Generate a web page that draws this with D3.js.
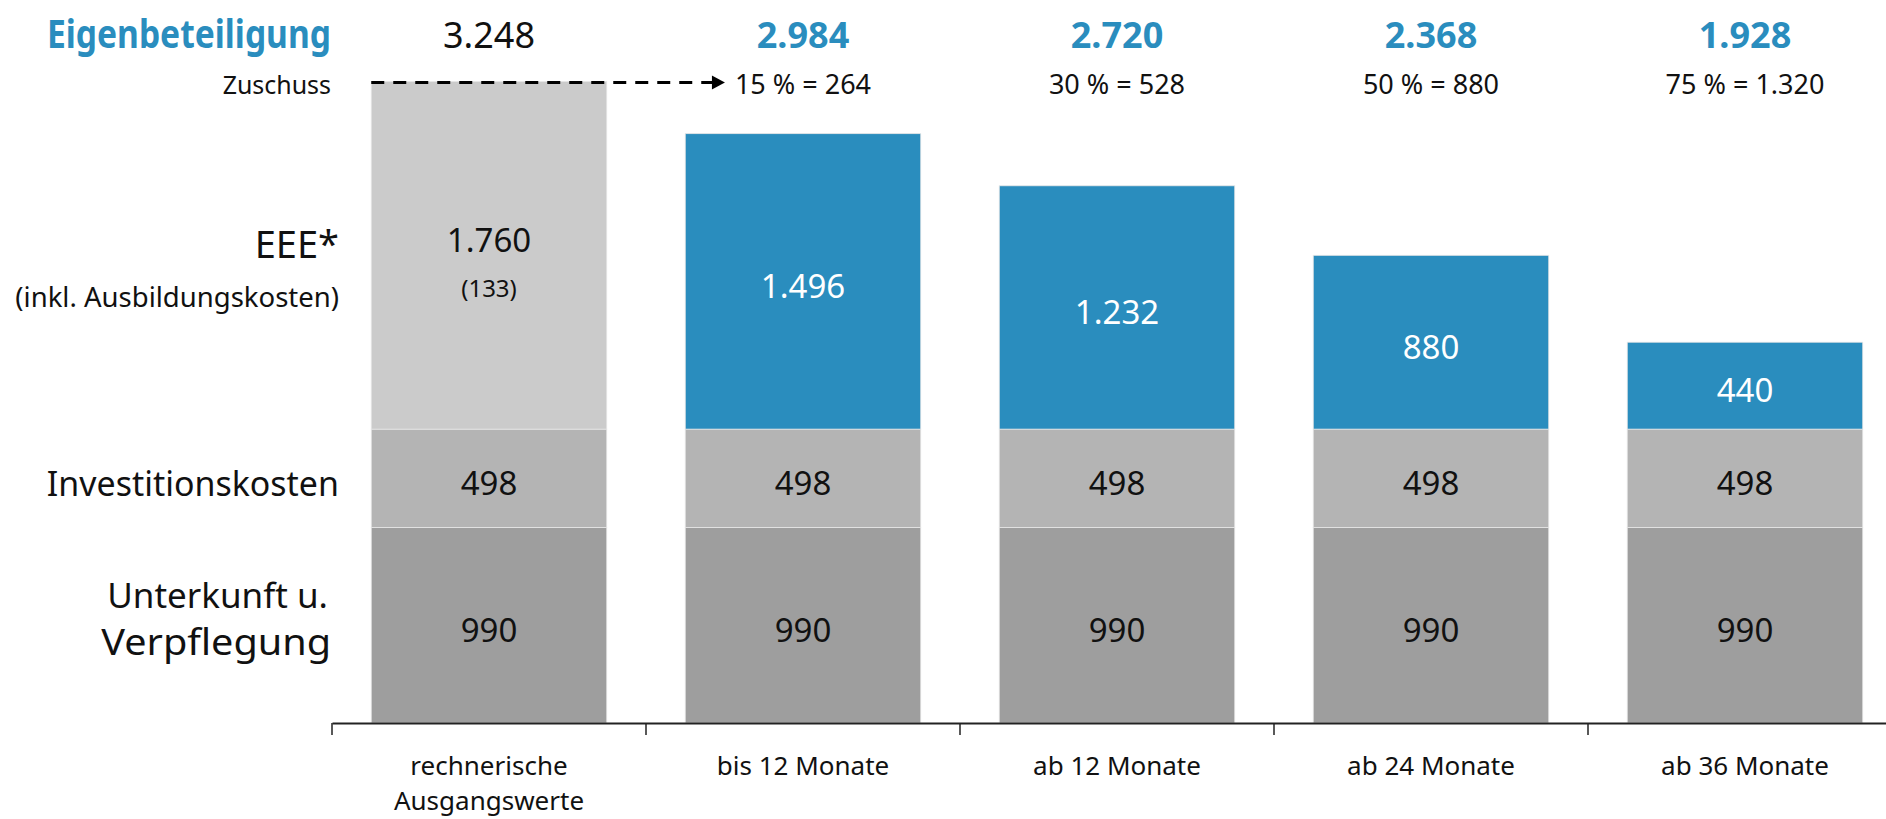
<!DOCTYPE html>
<html>
<head>
<meta charset="utf-8">
<script src="https://cdn.jsdelivr.net/npm/d3@7"></script>
<style>
  html, body { margin: 0; padding: 0; background: #fff; }
  svg { display: block; }
  text { font-family: "Noto Sans", "Open Sans", sans-serif; }
</style>
</head>
<body>
<svg id="chart" width="1886" height="819"></svg>
<script>
// ---- data ----
const categories = ["rechnerische Ausgangswerte", "bis 12 Monate", "ab 12 Monate", "ab 24 Monate", "ab 36 Monate"];
const categoryLines = [["rechnerische", "Ausgangswerte"], ["bis 12 Monate"], ["ab 12 Monate"], ["ab 24 Monate"], ["ab 36 Monate"]];
const unterkunft = [990, 990, 990, 990, 990];
const investition = [498, 498, 498, 498, 498];
const eee = [1760, 1496, 1232, 880, 440];
const eeeNote = ["(133)", null, null, null, null];
const eigenbeteiligung = [3248, 2984, 2720, 2368, 1928];
const zuschussPct = [null, 15, 30, 50, 75];
const zuschussValue = [null, 264, 528, 880, 1320];
const seriesNames = ["Unterkunft u. Verpflegung", "Investitionskosten", "EEE*"];

// ---- setup ----
const de = d3.formatLocale({decimal: ",", thousands: ".", grouping: [3], currency: ["", " €"]});
const fmt = de.format(",d");

const svg = d3.select("#chart");
const baseY = 723;

const x = d3.scaleBand().domain(categories).range([332, 1902]).paddingInner(0.25).paddingOuter(0.125);
const y = d3.scaleLinear().domain([0, 3300]).range([baseY, baseY - 3300 * 0.1975]);

const BLUE = "#2a8dbe";
const segColors = ["#9e9e9e", "#b4b4b4", "#cbcbcb"];

const rows = categories.map((c, i) => ({cat: c, i, u: unterkunft[i], inv: investition[i], eee: eee[i]}));
const stack = d3.stack().keys(["u", "inv", "eee"]);
const layers = stack(rows);

const g = svg.append("g");
layers.forEach((layer, li) => {
  g.selectAll(null).data(layer).enter().append("rect")
    .attr("x", d => x(d.data.cat))
    .attr("width", x.bandwidth())
    .attr("y", d => y(d[1]))
    .attr("height", d => y(d[0]) - y(d[1]))
    .attr("fill", d => (li === 2 && d.data.i > 0) ? BLUE : segColors[li])
    .attr("stroke", "#e6e6e6").attr("stroke-width", 0.8);
});

// segment labels
layers.forEach((layer, li) => {
  g.selectAll(null).data(layer).enter().append("text")
    .attr("x", d => x(d.data.cat) + x.bandwidth() / 2)
    .attr("y", d => {
      const mid = (y(d[0]) + y(d[1])) / 2 + 4;
      return (li === 2 && d.data.i === 0) ? mid - 20 : mid;
    })
    .attr("text-anchor", "middle")
    .attr("dominant-baseline", "central")
    .attr("font-size", 33)
    .attr("fill", d => (li === 2 && d.data.i > 0) ? "#fff" : "#111")
    .text(d => fmt(d[1] - d[0]));
});
g.selectAll(null).data(rows.filter(r => eeeNote[r.i])).enter().append("text")
  .attr("x", d => x(d.cat) + x.bandwidth() / 2)
  .attr("y", d => (y(d.u + d.inv) + y(d.u + d.inv + d.eee)) / 2 + 32)
  .attr("text-anchor", "middle").attr("dominant-baseline", "central")
  .attr("font-size", 24).attr("fill", "#111")
  .text(d => eeeNote[d.i]);

// top totals
g.selectAll(null).data(rows).enter().append("text")
  .attr("x", d => x(d.cat) + x.bandwidth() / 2)
  .attr("y", 48)
  .attr("text-anchor", "middle")
  .attr("font-size", 36)
  .attr("font-weight", d => d.i > 0 ? 700 : 400)
  .attr("fill", d => d.i > 0 ? BLUE : "#111")
  .text(d => fmt(eigenbeteiligung[d.i]));

// zuschuss labels
const zl = g.selectAll(null).data(rows.filter(r => zuschussPct[r.i] != null)).enter().append("text")
  .attr("x", d => x(d.cat) + x.bandwidth() / 2)
  .attr("y", 94)
  .attr("text-anchor", "middle")
  .attr("font-size", 27).attr("fill", "#111")
  .text(d => zuschussPct[d.i] + " % = " + fmt(zuschussValue[d.i]));

// dashed arrow
const firstBox = zl.node().getBBox();
const arrowY = y(eigenbeteiligung[0]) + 1;
const x0 = x(categories[0]);
const x1 = firstBox.x - 12;
g.append("line").attr("x1", x0).attr("x2", x1 - 8).attr("y1", arrowY).attr("y2", arrowY)
  .attr("stroke", "#000").attr("stroke-width", 3.2).attr("stroke-dasharray", "13,9");
g.append("path")
  .attr("d", `M${x1 - 11},${arrowY - 7}L${x1 + 2},${arrowY}L${x1 - 11},${arrowY + 7}Z`)
  .attr("fill", "#000");

// left labels
const leftX = 339;
const lab = (txt, yy, size, opts = {}) => {
  const sx = opts.sx || 1;
  const xx = opts.x || leftX;
  return g.append("text")
    .attr("transform", `translate(${xx},${yy}) scale(${sx},1)`)
    .attr("text-anchor", "end")
    .attr("font-size", size).attr("font-weight", opts.bold ? 700 : 400)
    .attr("fill", opts.fill || "#111").text(txt);
};
lab("Eigenbeteiligung", 48, 40, {bold: true, fill: BLUE, x: 331, sx: 0.84});
lab("Zuschuss", 94, 26, {x: 331, sx: 0.96});
lab("EEE*", 258, 38);
lab("(inkl. Ausbildungskosten)", 307, 27.5);
lab("Investitionskosten", 496, 35, {sx: 0.97});
lab("Unterkunft u.", 608, 35, {x: 328});
lab("Verpflegung", 655, 36, {x: 331, sx: 1.1});

// x axis
const axis = d3.axisBottom(x).tickSize(0).tickFormat("");
const ax = svg.append("g").attr("transform", `translate(0,${baseY})`).call(axis);
ax.select(".domain").attr("stroke", "#222").attr("stroke-width", 2.2);
const step = x.step();
ax.selectAll(".btick").data(categories).enter().append("line")
  .attr("x1", d => x(d) - (step - x.bandwidth()) / 2)
  .attr("x2", d => x(d) - (step - x.bandwidth()) / 2)
  .attr("y1", 0).attr("y2", 12).attr("stroke", "#222").attr("stroke-width", 1.5);
ax.selectAll(".clab").data(categories).enter().append("text")
  .attr("x", d => x(d) + x.bandwidth() / 2)
  .attr("text-anchor", "middle").attr("font-size", 26).attr("fill", "#111")
  .each(function(d, i) {
    const t = d3.select(this);
    categoryLines[i].forEach((ln, k) => {
      t.append("tspan").attr("x", x(d) + x.bandwidth() / 2).attr("y", 52 + k * 35).text(ln);
    });
  });
</script>
</body>
</html>
